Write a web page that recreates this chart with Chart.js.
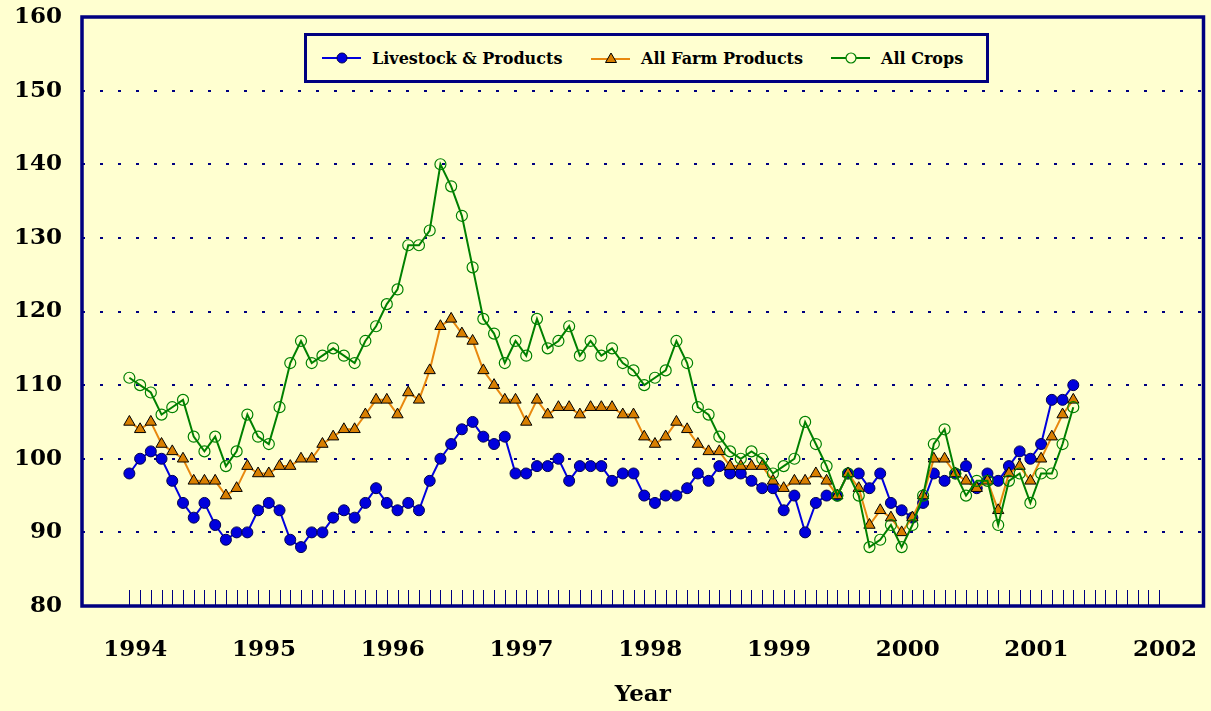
<!DOCTYPE html>
<html>
<head>
<meta charset="utf-8">
<script src="https://cdn.jsdelivr.net/npm/chart.js@4.4.1/dist/chart.umd.min.js"></script>
<style>
  html, body { margin:0; padding:0; background:#FFFFD0; }
  #wrap { position:relative; width:1211px; height:711px; background:#FFFFD0; overflow:hidden; }
  canvas { position:absolute; left:0; top:0; }
  #legend { position:absolute; left:304px; top:33px; width:679px; height:44px; border:3px solid #000080; background:#FFFFD0; }
  .item { position:absolute; top:0; height:44px; display:flex; align-items:center; font-family:'DejaVu Serif', serif; font-weight:bold; font-size:16px; color:#000; white-space:nowrap; }
  .item svg { margin-right:10px; }
</style>
</head>
<body>
<div id="wrap">
  <canvas id="c" width="1211" height="711"></canvas>
  <div id="legend">
    <div class="item" style="left:15px;">
      <svg width="40" height="14"><line x1="0" y1="7" x2="39" y2="7" stroke="#0000DD" stroke-width="2"/><circle cx="20" cy="7" r="5" fill="#0000DD" stroke="#000050" stroke-width="1"/></svg>Livestock &amp; Products</div>
    <div class="item" style="left:284px;">
      <svg width="40" height="14"><line x1="0" y1="8" x2="39" y2="8" stroke="#E8880E" stroke-width="2"/><polygon points="20,2 25.5,11.5 14.5,11.5" fill="#D97F00" stroke="#000" stroke-width="1"/></svg>All Farm Products</div>
    <div class="item" style="left:524px;">
      <svg width="40" height="14"><line x1="0" y1="7" x2="39" y2="7" stroke="#008000" stroke-width="2"/><circle cx="20" cy="7" r="5" fill="#FFFFD0" stroke="#008000" stroke-width="1.2"/></svg>All Crops</div>
  </div>
</div>
<script>
// ---- data (monthly, Jan 1994 .. May 2001) ----
const startYear = 1994;
const yearLabels = [1994, 1995, 1996, 1997, 1998, 1999, 2000, 2001, 2002];
const yTicks = [80, 90, 100, 110, 120, 130, 140, 150, 160];

const livestock = [
  98,100,101,100,97,94,92,94,91,89,90,90,
  93,94,93,89,88,90,90,92,93,92,94,96,
  94,93,94,93,97,100,102,104,105,103,102,103,
  98,98,99,99,100,97,99,99,99,97,98,98,
  95,94,95,95,96,98,97,99,98,98,97,96,
  96,93,95,90,94,95,95,98,98,96,98,94,
  93,92,94,98,97,98,99,96,98,97,99,101,
  100,102,108,108,110
];
const allFarm = [
  105,104,105,102,101,100,97,97,97,95,96,99,
  98,98,99,99,100,100,102,103,104,104,106,108,
  108,106,109,108,112,118,119,117,116,112,110,108,
  108,105,108,106,107,107,106,107,107,107,106,106,
  103,102,103,105,104,102,101,101,99,99,99,99,
  97,96,97,97,98,97,95,98,96,91,93,92,
  90,92,95,100,100,98,97,96,97,93,98,99,
  97,100,103,106,108
];
const allCrops = [
  111,110,109,106,107,108,103,101,103,99,101,106,
  103,102,107,113,116,113,114,115,114,113,116,118,
  121,123,129,129,131,140,137,133,126,119,117,113,
  116,114,119,115,116,118,114,116,114,115,113,112,
  110,111,112,116,113,107,106,103,101,100,101,100,
  98,99,100,105,102,99,95,98,95,88,89,91,
  88,91,95,102,104,98,95,97,97,91,97,98,
  94,98,98,102,107
];

const toXY = arr => arr.map((v, i) => ({ x: startYear + i / 12, y: v }));

const NAVY = '#000080';
const FONT = "'DejaVu Serif', serif";

const framePlugin = {
  id: 'frame',
  afterDatasetsDraw(chart) {
    const { ctx, chartArea: a, scales: { x } } = chart;
    ctx.save();
    // monthly minor ticks along the bottom, inside the plot
    ctx.strokeStyle = NAVY;
    ctx.lineWidth = 1;
    const first = yearLabels[0], last = yearLabels[yearLabels.length - 1];
    for (let m = 0; m <= (last - first) * 12; m++) {
      const px = Math.round(x.getPixelForValue(first + m / 12)) + 0.5;
      ctx.beginPath();
      ctx.moveTo(px, a.bottom - 16);
      ctx.lineTo(px, a.bottom);
      ctx.stroke();
    }
    // plot border
    ctx.lineWidth = 3.5;
    ctx.strokeStyle = NAVY;
    ctx.strokeRect(a.left, a.top, a.right - a.left, a.bottom - a.top);
    ctx.restore();
  }
};

const zeroPad = s => { s.paddingLeft = 0; s.paddingRight = 0; s.paddingTop = 0; s.paddingBottom = 0; };

new Chart(document.getElementById('c'), {
  type: 'line',
  data: {
    datasets: [
      {
        label: 'All Crops', data: toXY(allCrops), order: 0,
        borderColor: '#008000', borderWidth: 2,
        pointStyle: 'circle', pointRadius: 5.5, pointBorderWidth: 1.2,
        pointBackgroundColor: 'rgba(0,0,0,0)', pointBorderColor: '#008000'
      },
      {
        label: 'All Farm Products', data: toXY(allFarm), order: 1,
        borderColor: '#E8880E', borderWidth: 2,
        pointStyle: 'triangle', pointRadius: 6.5, pointBorderWidth: 1,
        pointBackgroundColor: '#D97F00', pointBorderColor: '#000000'
      },
      {
        label: 'Livestock & Products', data: toXY(livestock), order: 2,
        borderColor: '#0000DD', borderWidth: 2,
        pointStyle: 'circle', pointRadius: 5.5, pointBorderWidth: 1,
        pointBackgroundColor: '#0000DD', pointBorderColor: '#000050'
      }
    ]
  },
  options: {
    responsive: false,
    animation: false,
    events: [],
    layout: { padding: { top: 17, right: 5, left: 0, bottom: 0 } },
    plugins: { legend: { display: false }, tooltip: { enabled: false } },
    elements: { line: { tension: 0 } },
    scales: {
      x: {
        type: 'linear',
        min: 1993.632,
        max: 2002.345,
        afterFit: s => { s.height = 105; zeroPad(s); },
        afterBuildTicks: s => { s.ticks = yearLabels.map(v => ({ value: v })); },
        grid: { display: false, drawTicks: false },
        border: { display: false },
        ticks: {
          autoSkip: false, maxRotation: 0, padding: 30, labelOffset: 6,
          color: '#000', font: { family: FONT, size: 23, weight: 'bold' },
          callback: v => String(v)
        },
        title: {
          display: true, text: 'Year', color: '#000',
          font: { family: FONT, size: 23, weight: 'bold' },
          padding: { top: 0, bottom: 2 }
        }
      },
      y: {
        min: 80, max: 160,
        afterFit: s => { s.width = 82; zeroPad(s); },
        afterBuildTicks: s => { s.ticks = yTicks.map(v => ({ value: v })); },
        grid: {
          drawTicks: false, lineWidth: 2,
          color: c => (c.tick && (c.tick.value === 80 || c.tick.value === 160)) ? 'rgba(0,0,0,0)' : NAVY
        },
        border: { display: false, dash: [3, 15] },
        ticks: {
          padding: 20, color: '#000',
          font: { family: FONT, size: 23, weight: 'bold' }
        }
      }
    }
  },
  plugins: [framePlugin]
});
</script>
</body>
</html>
